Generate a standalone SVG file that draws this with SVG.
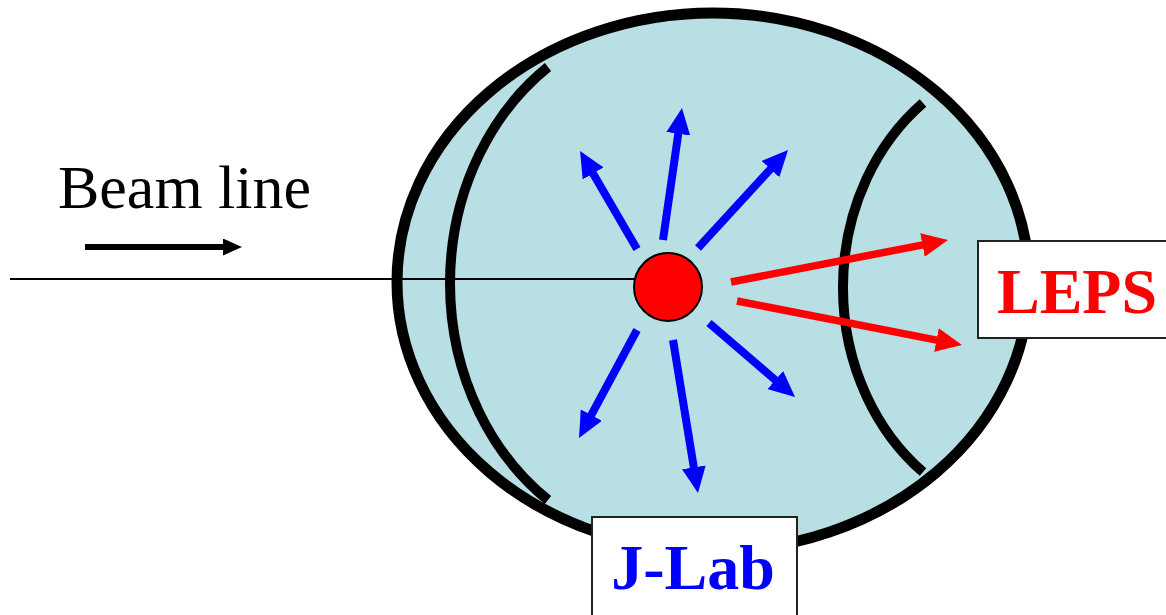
<svg xmlns="http://www.w3.org/2000/svg" width="1166" height="615" viewBox="0 0 1166 615">
  <style>
    .detector { fill: none; stroke: #000; stroke-width: 10; }
    .blue { stroke: #0000FF; stroke-width: 8; fill: none; }
    .red { stroke: #FF0000; stroke-width: 7.5; fill: none; }
    .box { fill: #FFFFFF; stroke: #222; stroke-width: 2; }
    .lbl { font-family: "Liberation Serif", "Times New Roman", serif; font-weight: bold; font-size: 64px; text-anchor: middle; }
  </style>
  <defs>
    <marker id="headBlue" markerUnits="userSpaceOnUse" markerWidth="26" markerHeight="24" viewBox="0 0 26 24" refX="3" refY="12" orient="auto">
      <path d="M0,0 L26,12 L0,24 z" fill="#0000FF"/>
    </marker>
    <marker id="headRed" markerUnits="userSpaceOnUse" markerWidth="26" markerHeight="24" viewBox="0 0 26 24" refX="3" refY="12" orient="auto">
      <path d="M0,0 L26,12 L0,24 z" fill="#FF0000"/>
    </marker>
    <marker id="headBlack" markerUnits="userSpaceOnUse" markerWidth="19" markerHeight="17" viewBox="0 0 19 17" refX="2" refY="8.5" orient="auto">
      <path d="M0,0 L19,8.5 L0,17 z" fill="#000"/>
    </marker>
  </defs>

  <g id="detector">
    <ellipse cx="713" cy="282" rx="316" ry="269" fill="#B8DFE3" stroke="#000" stroke-width="11"/>
    <path class="detector" d="M548,67 A230,264.4 0 0 0 548,500"/>
    <path class="detector" d="M923,103 A200,230.6 0 0 0 923,472"/>
  </g>

  <g id="beam">
    <line x1="10" y1="279" x2="636" y2="279" stroke="#000" stroke-width="2"/>
    <text x="58" y="208" font-family="'Liberation Serif', 'Times New Roman', serif" font-size="62" fill="#000">Beam line</text>
  </g>

  <g id="connectors">
    <line x1="85" y1="247" x2="225" y2="247" stroke="#000" stroke-width="6" marker-end="url(#headBlack)"/>
    <line class="blue" x1="637" y1="249" x2="591.6" y2="170.9" marker-end="url(#headBlue)"/>
    <line class="blue" x1="663" y1="240" x2="678.7" y2="130.8" marker-end="url(#headBlue)"/>
    <line class="blue" x1="698" y1="248" x2="772.5" y2="166.9" marker-end="url(#headBlue)"/>
    <line class="blue" x1="637" y1="330" x2="589.9" y2="417.7" marker-end="url(#headBlue)"/>
    <line class="blue" x1="673" y1="340" x2="694.3" y2="470.3" marker-end="url(#headBlue)"/>
    <line class="blue" x1="709" y1="323" x2="777.6" y2="382" marker-end="url(#headBlue)"/>
    <line class="red" x1="731" y1="282" x2="925.4" y2="244.4" marker-end="url(#headRed)"/>
    <line class="red" x1="737" y1="301" x2="939.4" y2="340.6" marker-end="url(#headRed)"/>
  </g>

  <g id="target">
    <circle cx="668" cy="287" r="34" fill="#FF0000" stroke="#000" stroke-width="2"/>
  </g>

  <g id="leps">
    <rect class="box" x="978" y="241" width="190" height="97"/>
    <text class="lbl" x="1077" y="313" fill="#FF0000">LEPS</text>
  </g>

  <g id="jlab">
    <rect class="box" x="592" y="517" width="205" height="105"/>
    <text class="lbl" x="693" y="589" fill="#0000FF">J-Lab</text>
  </g>
</svg>
